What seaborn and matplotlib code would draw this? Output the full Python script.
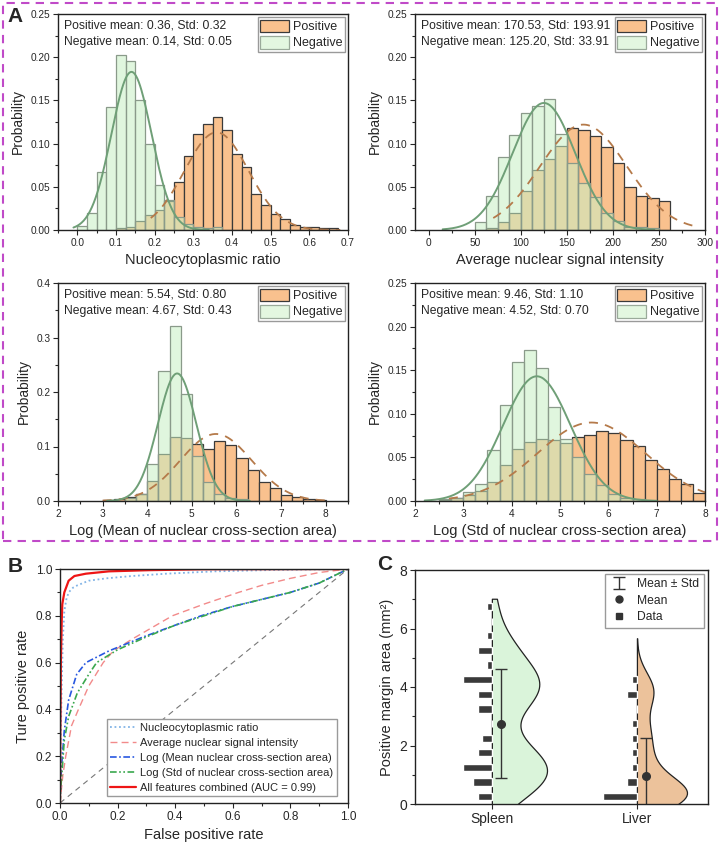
import numpy as np
import pandas as pd
import seaborn as sns
import matplotlib.pyplot as plt
from matplotlib.patches import Rectangle, Patch
from matplotlib.lines import Line2D
from matplotlib.ticker import AutoMinorLocator, FormatStrFormatter

sns.set_style('ticks')
plt.rcParams['font.family'] = ['Liberation Sans', 'DejaVu Sans']

#%% Panel A data (bin start, bin width, probability per bin)
ncr_neg_start, ncr_pos_start, ncr_width = 0.0, 0.1, 0.025
ncr_neg = [0.005, 0.020, 0.067, 0.142, 0.202, 0.196, 0.150, 0.100, 0.052, 0.035,
           0.015, 0.007, 0.003, 0.002, 0.003]
ncr_pos = [0.002, 0.003, 0.010, 0.017, 0.023, 0.034, 0.056, 0.086, 0.111, 0.123,
           0.131, 0.116, 0.088, 0.073, 0.042, 0.029, 0.019, 0.013, 0.006, 0.004,
           0.003, 0.002, 0.002]

ins_neg_start, ins_pos_start, ins_width = 50, 62.5, 12.5
ins_neg = [0.009, 0.039, 0.085, 0.110, 0.135, 0.143, 0.152, 0.111, 0.078, 0.054,
           0.038, 0.020, 0.010, 0.004, 0.003, 0.002]
ins_pos = [0.002, 0.009, 0.020, 0.045, 0.069, 0.082, 0.097, 0.118, 0.116, 0.109,
           0.096, 0.078, 0.050, 0.039, 0.037, 0.033]

lma_neg_start, lma_pos_start, lma_width = 3.5, 3.0, 0.25
lma_neg = [0.005, 0.013, 0.068, 0.239, 0.322, 0.197, 0.083, 0.035, 0.012, 0.005, 0.004]
lma_pos = [0.002, 0.004, 0.008, 0.013, 0.037, 0.086, 0.118, 0.115, 0.105, 0.096,
           0.110, 0.103, 0.078, 0.057, 0.034, 0.024, 0.011, 0.007, 0.004, 0.002]

lsa_neg_start, lsa_pos_start, lsa_width = 2.5, 2.5, 0.25
lsa_neg = [0.002, 0.004, 0.010, 0.020, 0.059, 0.110, 0.159, 0.173, 0.152, 0.108,
           0.071, 0.051, 0.031, 0.018, 0.008, 0.004, 0.002]
lsa_pos = [0.001, 0.003, 0.007, 0.012, 0.022, 0.041, 0.060, 0.068, 0.071, 0.070,
           0.066, 0.073, 0.076, 0.080, 0.078, 0.070, 0.063, 0.047, 0.037, 0.025,
           0.020, 0.009]

# fitted normal curves: (peak, centre, sigma, x from, x to)
ncr_neg_fit = (0.183, 0.14, 0.052, -0.01, 0.34)
ncr_pos_fit = (0.113, 0.36, 0.083, 0.19, 0.68)
ins_neg_fit = (0.147, 125, 34, 15, 245)
ins_pos_fit = (0.122, 168, 47, 70, 290)
lma_neg_fit = (0.234, 4.67, 0.43, 3.1, 6.3)
lma_pos_fit = (0.123, 5.54, 0.80, 3.0, 8.0)
lsa_neg_fit = (0.143, 4.52, 0.70, 2.2, 7.0)
lsa_pos_fit = (0.090, 5.65, 1.12, 2.7, 8.0)

ncr_text = ['Positive mean: 0.36, Std: 0.32', 'Negative mean: 0.14, Std: 0.05']
ins_text = ['Positive mean: 170.53, Std: 193.91', 'Negative mean: 125.20, Std: 33.91']
lma_text = ['Positive mean: 5.54, Std: 0.80', 'Negative mean: 4.67, Std: 0.43']
lsa_text = ['Positive mean: 9.46, Std: 1.10', 'Negative mean: 4.52, Std: 0.70']

#%% Panel B data (ROC curves)
ncr_fpr = [0, 0.003, 0.006, 0.010, 0.015, 0.022, 0.030, 0.045, 0.060, 0.100, 0.160, 0.250, 0.370, 0.540, 0.750, 1.0]
ncr_tpr = [0, 0.300, 0.500, 0.700, 0.820, 0.870, 0.900, 0.920, 0.930, 0.950, 0.960, 0.970, 0.980, 0.990, 0.996, 1.0]
ins_fpr = [0, 0.005, 0.010, 0.020, 0.040, 0.064, 0.100, 0.150, 0.185, 0.250, 0.390, 0.500, 0.620, 0.700, 0.800, 0.900, 1.0]
ins_tpr = [0, 0.060, 0.120, 0.200, 0.330, 0.400, 0.500, 0.600, 0.650, 0.700, 0.800, 0.850, 0.900, 0.930, 0.960, 0.985, 1.0]
lma_fpr = [0, 0.002, 0.005, 0.015, 0.030, 0.058, 0.090, 0.170, 0.290, 0.400, 0.490, 0.600, 0.700, 0.800, 0.900, 1.0]
lma_tpr = [0, 0.080, 0.150, 0.310, 0.440, 0.550, 0.600, 0.650, 0.710, 0.760, 0.800, 0.840, 0.870, 0.900, 0.940, 1.0]
lsa_fpr = [0, 0.002, 0.005, 0.015, 0.030, 0.060, 0.100, 0.127, 0.200, 0.300, 0.400, 0.500, 0.600, 0.700, 0.800, 0.900, 1.0]
lsa_tpr = [0, 0.050, 0.100, 0.270, 0.370, 0.470, 0.550, 0.600, 0.655, 0.710, 0.760, 0.800, 0.840, 0.870, 0.900, 0.940, 1.0]
all_fpr = [0, 0.001, 0.003, 0.006, 0.008, 0.015, 0.030, 0.050, 0.090, 0.170, 0.310, 0.500, 1.0]
all_tpr = [0, 0.300, 0.600, 0.780, 0.850, 0.900, 0.950, 0.970, 0.980, 0.990, 0.995, 0.999, 1.0]

#%% Panel C data (histogram counts per 0.5 bin, mean and std)
tissues = ['Spleen', 'Liver']
spleen_centers = [0.25, 0.75, 1.25, 1.75, 2.25, 2.75, 3.25, 3.75, 4.25, 4.75, 5.25, 5.75, 6.25, 6.75]
spleen_counts = [3, 4, 6, 3, 2, 0, 3, 3, 6, 1, 3, 1, 0, 1]
liver_centers = [0.25, 0.75, 1.25, 1.75, 2.25, 2.75, 3.25, 3.75, 4.25]
liver_counts = [7, 2, 1, 1, 1, 1, 0, 2, 1]
tissue_mean = [2.75, 0.95]
tissue_std = [1.87, 1.30]

#%% colours
orange = '#f9c18e'
green = '#c8f0c3'
green_line = '#6f9f77'
orange_line = '#b57a4a'
purple = '#c04ac8'

fig = plt.figure(figsize=(7.2, 8.42), dpi=100)


def px_axes(l, t, r, b):
    return fig.add_axes([l / 720, 1 - b / 842, (r - l) / 720, (b - t) / 842])


def style_axes(ax, size):
    ax.tick_params(which='both', direction='out', top=False, right=False,
                   labelsize=size, width=0.8, pad=2)
    ax.tick_params(which='major', length=3.5)
    ax.tick_params(which='minor', length=2)
    for s in ax.spines.values():
        s.set_visible(True)
        s.set_linewidth(1.0)
        s.set_color('#222222')


def hist(ax, start, width, probs, **kw):
    edges = [start + width * i for i in range(len(probs) + 1)]
    df = pd.DataFrame({'x': [e + width / 2 for e in edges[:-1]], 'p': probs})
    sns.histplot(data=df, x='x', weights='p', bins=edges, ax=ax, **kw)


def fit_curve(ax, fit, **kw):
    peak, mu, sd, lo, hi = fit
    xs = np.linspace(lo, hi, 200)
    sns.lineplot(x=xs, y=peak * np.exp(-0.5 * ((xs - mu) / sd) ** 2), ax=ax, **kw)


#%% Panel A
hist_panels = [
    ((58, 14, 348, 230), ncr_neg_start, ncr_pos_start, ncr_width, ncr_neg, ncr_pos,
     ncr_neg_fit, ncr_pos_fit, ncr_text, (-0.05, 0.7), np.arange(0, 0.71, 0.1),
     (0, 0.25), np.arange(0, 0.26, 0.05), '%.2f', '%.1f', 'Nucleocytoplasmic ratio'),
    ((415, 14, 705, 230), ins_neg_start, ins_pos_start, ins_width, ins_neg, ins_pos,
     ins_neg_fit, ins_pos_fit, ins_text, (-15, 300), np.arange(0, 301, 50),
     (0, 0.25), np.arange(0, 0.26, 0.05), '%.2f', '%d', 'Average nuclear signal intensity'),
    ((58, 283, 348, 501), lma_neg_start, lma_pos_start, lma_width, lma_neg, lma_pos,
     lma_neg_fit, lma_pos_fit, lma_text, (2, 8.5), np.arange(2, 9, 1),
     (0, 0.4), np.arange(0, 0.41, 0.1), '%.1f', '%d', 'Log (Mean of nuclear cross-section area)'),
    ((415, 283, 705, 501), lsa_neg_start, lsa_pos_start, lsa_width, lsa_neg, lsa_pos,
     lsa_neg_fit, lsa_pos_fit, lsa_text, (2, 8), np.arange(2, 9, 1),
     (0, 0.25), np.arange(0, 0.26, 0.05), '%.2f', '%d', 'Log (Std of nuclear cross-section area)'),
]

for (box, nstart, pstart, w, neg, pos, nfit, pfit, txt, xlim, xt, ylim, yt,
     yfmt, xfmt, xlabel) in hist_panels:
    ax = px_axes(*box)
    hist(ax, pstart, w, pos, color=orange, alpha=1, edgecolor='#3a3a3a', linewidth=0.9)
    fit_curve(ax, pfit, color=orange_line, linestyle=(0, (5, 4)), linewidth=1.3)
    hist(ax, nstart, w, neg, color=green, alpha=0.55, edgecolor='#8a9a8a', linewidth=0.9)
    fit_curve(ax, nfit, color=green_line, linewidth=1.4)
    ax.set_xlim(*xlim)
    ax.set_ylim(*ylim)
    ax.set_xticks(xt)
    ax.set_yticks(yt)
    ax.yaxis.set_major_formatter(FormatStrFormatter(yfmt))
    ax.xaxis.set_major_formatter(FormatStrFormatter(xfmt))
    ax.xaxis.set_minor_locator(AutoMinorLocator(2))
    ax.yaxis.set_minor_locator(AutoMinorLocator(2))
    style_axes(ax, 7.3)
    ax.set_ylabel('Probability', fontsize=10, labelpad=4)
    ax.set_xlabel(xlabel, fontsize=10.5, labelpad=4)
    ax.text(0.02, 0.949, txt[0], transform=ax.transAxes, fontsize=8.7, va='center')
    ax.text(0.02, 0.870, txt[1], transform=ax.transAxes, fontsize=8.7, va='center')
    handles = [Patch(facecolor=orange, edgecolor='#3a3a3a', linewidth=0.9),
               Patch(facecolor='#e3f7e0', edgecolor='#9aaa9a', linewidth=0.9)]
    leg = ax.legend(handles, ['Positive', 'Negative'], loc='upper right', fontsize=9,
                    frameon=True, fancybox=False, edgecolor='#9a9a9a', framealpha=1,
                    handlelength=2.3, handleheight=1.2, handletextpad=0.3,
                    borderpad=0.2, labelspacing=0.2, borderaxespad=0.25)
    leg.get_frame().set_linewidth(1.0)

fig.patches.append(Rectangle((3 / 720, 1 - 541 / 842), 714 / 720, 538 / 842,
                             transform=fig.transFigure, fill=False, edgecolor=purple,
                             linestyle=(0, (4, 3)), linewidth=1.5))
fig.text(15 / 720, 1 - 17 / 842, 'A', fontsize=15, fontweight='bold', ha='center', va='center')
fig.text(15 / 720, 1 - 567 / 842, 'B', fontsize=15, fontweight='bold', ha='center', va='center')
fig.text(385 / 720, 1 - 565 / 842, 'C', fontsize=15, fontweight='bold', ha='center', va='center')

#%% Panel B
axb = px_axes(60, 569, 348, 803)
axb.plot([0, 1], [0, 1], color='#777777', linestyle=(0, (5, 4)), linewidth=0.8)
sns.lineplot(x=ncr_fpr, y=ncr_tpr, estimator=None, sort=False, ax=axb, color='#82b4e6',
             linestyle=(0, (1, 1.5)), linewidth=1.3, label='Nucleocytoplasmic ratio')
sns.lineplot(x=ins_fpr, y=ins_tpr, estimator=None, sort=False, ax=axb, color='#f28a8a',
             linestyle=(0, (5, 3)), linewidth=1.0, label='Average nuclear signal intensity')
sns.lineplot(x=lma_fpr, y=lma_tpr, estimator=None, sort=False, ax=axb, color='#2858e0',
             linestyle=(0, (4, 1.5, 1, 1.5)), linewidth=1.2, label='Log (Mean nuclear cross-section area)')
sns.lineplot(x=lsa_fpr, y=lsa_tpr, estimator=None, sort=False, ax=axb, color='#3aa84e',
             linestyle=(0, (4, 1.5, 1, 1.5, 1, 1.5)), linewidth=1.2,
             label='Log (Std of nuclear cross-section area)')
sns.lineplot(x=all_fpr, y=all_tpr, estimator=None, sort=False, ax=axb, color='#ee1515',
             linewidth=1.6, label='All features combined (AUC = 0.99)')
axb.set_xlim(0, 1)
axb.set_ylim(0, 1)
axb.set_xticks(np.arange(0, 1.01, 0.2))
axb.set_yticks(np.arange(0, 1.01, 0.2))
axb.xaxis.set_major_formatter(FormatStrFormatter('%.1f'))
axb.yaxis.set_major_formatter(FormatStrFormatter('%.1f'))
axb.xaxis.set_minor_locator(AutoMinorLocator(2))
axb.yaxis.set_minor_locator(AutoMinorLocator(2))
style_axes(axb, 8.5)
axb.set_xlabel('False positive rate', fontsize=10.5, labelpad=4)
axb.set_ylabel('Ture positive rate', fontsize=10.5, labelpad=4)
leg = axb.legend(loc='lower left', bbox_to_anchor=(0.163, 0.03), fontsize=8, frameon=True,
                 fancybox=False, edgecolor='#9a9a9a', framealpha=1, handlelength=2.3,
                 handletextpad=0.4, borderpad=0.3, labelspacing=0.45, borderaxespad=0)

#%% Panel C
axc = px_axes(415, 570, 708, 804)


def half_violin(ax, pos, half, n_before):
    # seaborn lays the split half across the whole slot; put its flat side on the category
    for coll in ax.collections[n_before:]:
        verts = []
        for p in coll.get_paths():
            v = p.vertices.copy()
            x0, x1 = v[:, 0].min(), v[:, 0].max()
            v[:, 0] = pos + (v[:, 0] - x0) / (x1 - x0) * half
            verts.append(v)
        coll.set_verts(verts)


spleen_vals = np.repeat(spleen_centers, spleen_counts)
liver_vals = np.repeat(liver_centers, liver_counts)
spleen_df = pd.DataFrame({'tissue': 'Spleen', 'area': spleen_vals, 'side': 'R'})
liver_df = pd.DataFrame({'tissue': 'Liver', 'area': liver_vals, 'side': 'R'})

n0 = len(axc.collections)
sns.violinplot(data=spleen_df, x='tissue', y='area', hue='side', hue_order=['L', 'R'],
               order=tissues, split=True, inner=None, cut=0.4, bw_adjust=0.75,
               density_norm='width', width=0.76, palette={'L': '#d6f8d6', 'R': '#d6f8d6'},
               linecolor='#222222', linewidth=0.9, legend=False, ax=axc)
half_violin(axc, 0, 0.38, n0)
n0 = len(axc.collections)
sns.violinplot(data=liver_df, x='tissue', y='area', hue='side', hue_order=['L', 'R'],
               order=tissues, split=True, inner=None, cut=2.6, bw_adjust=0.65,
               density_norm='width', width=0.69, palette={'L': orange, 'R': orange},
               linecolor='#222222', linewidth=0.9, legend=False, ax=axc)
half_violin(axc, 1, 0.345, n0)

bar_scale = 0.033
axc.barh(spleen_centers, -np.array(spleen_counts) * bar_scale, left=0, height=0.25,
         color='#3a3a3a')
axc.barh(liver_centers, -np.array(liver_counts) * bar_scale, left=1, height=0.25,
         color='#3a3a3a')
for i in range(2):
    axc.errorbar(i + 0.065, tissue_mean[i], yerr=tissue_std[i], fmt='none', ecolor='#333333',
                 elinewidth=1.0, capsize=4, capthick=1.0,
                 label='Mean $\\pm$ Std' if i == 0 else None)
    axc.plot(i + 0.065, tissue_mean[i], 'o', color='#333333', markersize=5.5)
axc.set_xlim(-0.53, 1.49)
axc.set_ylim(0, 8)
axc.set_yticks(np.arange(0, 8.1, 2))
axc.yaxis.set_minor_locator(AutoMinorLocator(2))
style_axes(axc, 10)
axc.set_xlabel('')
axc.set_ylabel('Positive margin area (mm²)', fontsize=10.5, labelpad=4)
eb_handle = axc.get_legend_handles_labels()[0]
handles = eb_handle + [Line2D([], [], marker='o', ls='none', color='#333333', ms=5),
                       Line2D([], [], marker='s', ls='none', color='#333333', ms=5)]
leg = axc.legend(handles, ['Mean ± Std', 'Mean', 'Data'], loc='upper right', fontsize=8.7,
                 frameon=True, fancybox=False, edgecolor='#9a9a9a', framealpha=1,
                 handlelength=1.5, handletextpad=0.8, borderpad=0.4, labelspacing=0.35,
                 borderaxespad=0.3)

fig.savefig('out.png', dpi=100)
